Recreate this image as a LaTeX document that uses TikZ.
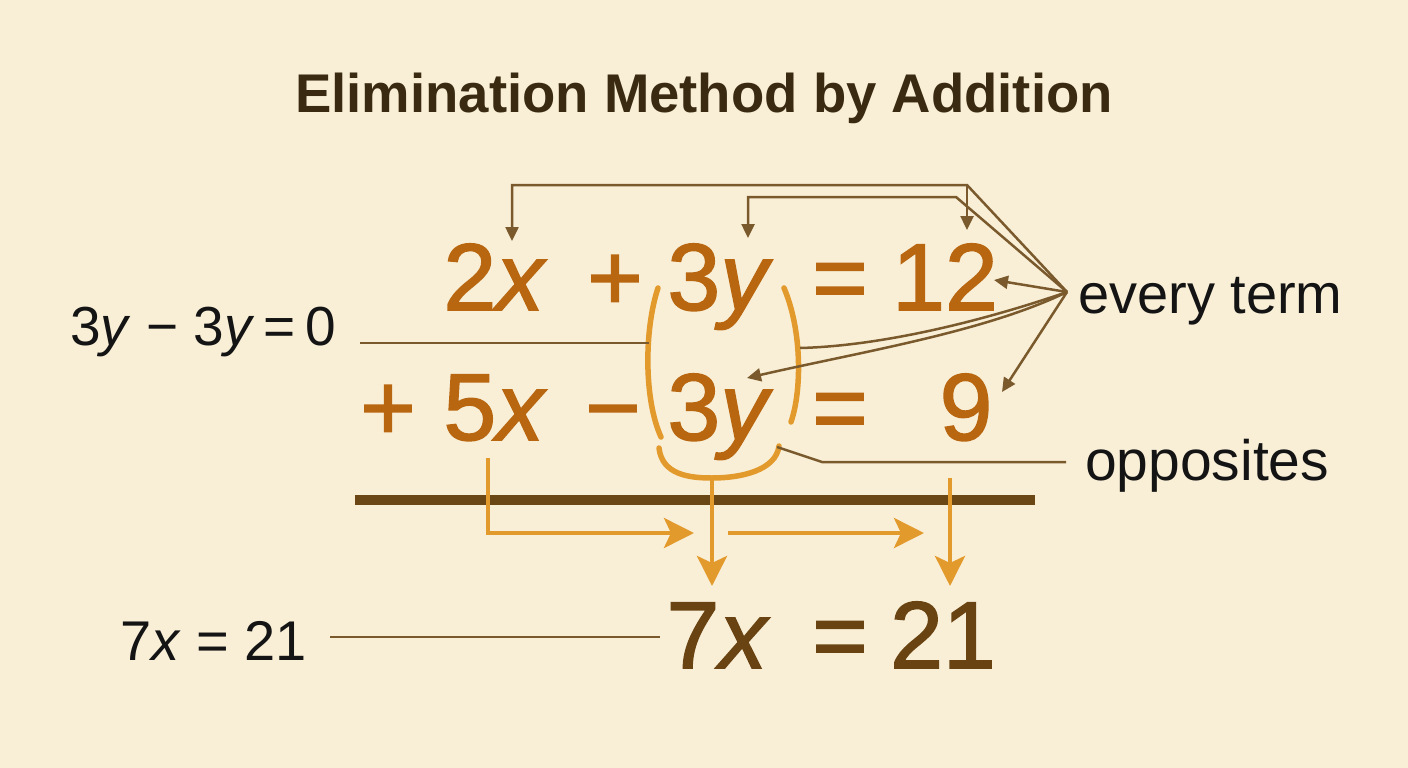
\documentclass[tikz,border=0pt]{standalone}
\usepackage{fontspec}
\setmainfont{Liberation Sans}
\newfontfamily\eqfont[FakeBold=1.6]{Liberation Sans}
\usetikzlibrary{arrows.meta,calc}
\definecolor{bg}{HTML}{F9EFD7}
\definecolor{eqc}{HTML}{B8660F}
\definecolor{orng}{HTML}{E39A2D}
\definecolor{brn}{HTML}{7A5A2C}
\definecolor{dark}{HTML}{6A4312}
\definecolor{ink}{HTML}{141414}
\definecolor{ttl}{HTML}{3A2A12}
\definecolor{barc}{HTML}{6B4716}
\begin{document}
\begin{tikzpicture}[x=1pt,y=-1pt,
 eq/.style={anchor=base,inner sep=0,text=eqc,font=\eqfont\fontsize{95}{95}\selectfont},
 res/.style={anchor=base,inner sep=0,text=dark,font=\eqfont\fontsize{95}{95}\selectfont},
 lbl/.style={anchor=base west,inner sep=0,text=ink,font=\fontsize{56}{56}\selectfont},
 thinln/.style={draw=brn,line width=2.5pt},
 ptr/.style={thinln,-{Triangle[length=14pt,width=13pt]}},
 obr/.style={draw=orng,line width=5.5pt,line cap=round},
 oln/.style={draw=orng,line width=4.5pt},
 oarr/.style={oln,-{Stealth[length=30pt,width=30pt,inset=7pt]}},
]
\fill[bg] (0,0) rectangle (1408,768);
\useasboundingbox (0,0) rectangle (1408,768);

% title
\node[anchor=base,inner sep=0,text=ttl,font=\fontsize{54.5}{54.5}\selectfont\bfseries] (title) at (704,112) {Elimination Method by Addition};

% row 1
\node[eq] (a2x) at (495,310) {2\textit{x}};
\node[eq] (aplus) at (615,310) {+};
\node[eq] (a3y) at (720,310) {3\textit{y}};
\node[eq] (aeq) at (840,310) {=};
\node[eq] (a12) at (945,310) {12};
% row 2
\node[eq] (bplus) at (388,440) {+};
\node[eq] (b5x) at (495,440) {5\textit{x}};
\node[eq] (bminus) at (613,440) {−};
\node[eq] (b3y) at (720,440) {3\textit{y}};
\node[eq] (beq) at (840,440) {=};
\node[eq] (b9) at (966,440) {9};
% bar
\coordinate (barL) at (355,500);
\coordinate (barR) at (1035,500);
\draw[barc,line width=10pt] (barL) -- (barR);
% result
\node[res] (c7x) at (718,668) {7\textit{x}};
\node[res] (ceq) at (840,668) {=};
\node[res] (c21) at (943,668) {21};

% labels
\node[lbl,font=\fontsize{55}{55}\selectfont] (lzero) at (70,345) {3\textit{y} − 3\textit{y}\,=\,0};
\node[lbl] (lres) at (120,660) {7\textit{x} = 21};
\node[lbl] (levery) at (1078,313) {every term};
\node[lbl,font=\fontsize{57}{57}\selectfont] (lopp) at (1085,480) {opposites};

% orange bracket
\coordinate (brLt) at (658,288);
\coordinate (brLb) at (661,437);
\coordinate (brRt) at (784,288);
\coordinate (brRb) at (791,422);
\coordinate (uL) at (659,448);
\coordinate (uB) at (712,478);
\coordinate (uR) at (779,446);
\draw[obr] (brLt) .. controls (644,330) and (644,400) .. (brLb);
\draw[obr] (brRt) .. controls (802,330) and (802,390) .. (brRb);
\draw[obr] (uL) .. controls (662,475) and (690,478) .. (uB) .. controls (742,478) and (776,470) .. (uR);

% leader lines
\coordinate (zL) at (360,343);
\coordinate (zR) at (649,343);
\draw[thinln] (zL) -- (zR);
\coordinate (rL) at (330,637);
\coordinate (rR) at (660,637);
\draw[thinln] (rL) -- (rR);
\coordinate (oA) at (777,447);
\coordinate (oB) at (822,462);
\coordinate (oC) at (1066,462);
\draw[thinln] (oA) -- (oB) -- (oC);

% every term pointers
\coordinate (hub) at (1067,292);
\coordinate (t1) at (967,185);
\coordinate (t2) at (956,197);
\coordinate (p2x) at (512,185);
\coordinate (p2xt) at (512,241);
\coordinate (p12t) at (967,230);
\coordinate (p3y) at (748,197);
\coordinate (p3yt) at (748,238);
\coordinate (p12s) at (994,280);
\coordinate (pbr) at (800,348);
\coordinate (p3yb) at (747,378);
\coordinate (p9) at (1002,392);
\draw[ptr] (hub) -- (t1) -- (p2x) -- (p2xt);
\draw[ptr] (t1) -- (p12t);
\draw[ptr] (hub) -- (t2) -- (p3y) -- (p3yt);
\draw[ptr] (hub) -- (p12s);
\draw[thinln] (hub) .. controls (980,322) and (880,346) .. (pbr);
\draw[ptr] (hub) .. controls (985,332) and (860,352) .. (p3yb);
\draw[ptr] (hub) -- (p9);

% orange flow arrows
\coordinate (x1) at (488,458);
\coordinate (x2) at (488,533);
\coordinate (x3) at (694,533);
\coordinate (m1) at (728,533);
\coordinate (m2) at (924,533);
\coordinate (v1) at (712,586);
\coordinate (n1) at (950,478);
\coordinate (n2) at (950,586);
\draw[oarr] (x1) -- (x2) -- (x3);
\draw[oarr] (m1) -- (m2);
\draw[oarr] (uB) -- (v1);
\draw[oarr] (n1) -- (n2);
\end{tikzpicture}
\end{document}
